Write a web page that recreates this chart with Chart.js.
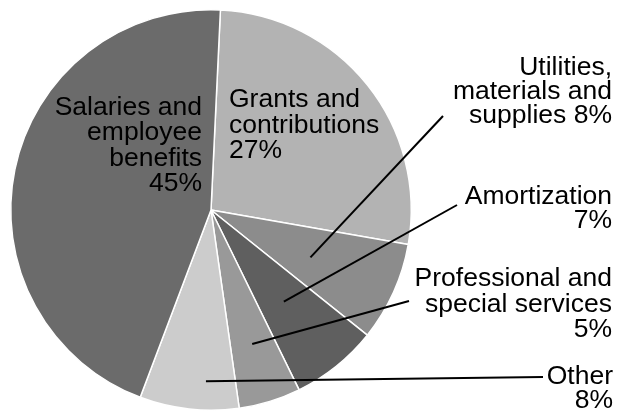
<!DOCTYPE html>
<html>
<head>
<meta charset="utf-8">
<script src="https://cdn.jsdelivr.net/npm/chart.js@4"></script>
<style>
  html, body { margin: 0; padding: 0; background: #fff; }
  canvas { display: block; }
</style>
</head>
<body>
<canvas id="pie" width="618" height="413"></canvas>
<script>
// expense categories, clockwise from the top
const categories = [
    "Grants and contributions",
    "Utilities, materials and supplies",
    "Amortization",
    "Professional and special services",
    "Other",
    "Salaries and employee benefits"
];
const shares = [27, 8, 7, 5, 8, 45];
const labelLines = [
    ["Grants and", "contributions", "{v}%"],
    ["Utilities,", "materials and", "supplies {v}%"],
    ["Amortization", "{v}%"],
    ["Professional and", "special services", "{v}%"],
    ["Other", "{v}%"],
    ["Salaries and", "employee", "benefits", "{v}%"]
];
const sliceColors = ["#b3b3b3", "#8c8c8c", "#5f5f5f", "#999999", "#cccccc", "#6b6b6b"];

// text block per slice; leader = [fraction along the arc, fraction of radius]
const labelLayout = [
    { align: "left",  x: 229, y: 107, lh: 25.5 },
    { align: "right", x: 612, y: 75,  lh: 24,   leader: [0.54, 0.55],  end: [443, 116] },
    { align: "right", x: 612, y: 204, lh: 24,   leader: [0.51, 0.585], end: [457, 205] },
    { align: "right", x: 612, y: 286, lh: 25.5, leader: [0.5, 0.7],    end: [409, 301] },
    { align: "right", x: 613, y: 384, lh: 24,   leader: [0.34, 0.855], end: [543, 377] },
    { align: "right", x: 202, y: 115, lh: 25.3 }
];

const sliceLabels = {
    id: "sliceLabels",
    afterDatasetsDraw(chart) {
        const ctx = chart.ctx;
        const arcs = chart.getDatasetMeta(0).data;
        ctx.save();
        ctx.font = '26.5px "Liberation Sans", Arial, sans-serif';
        ctx.fillStyle = "#000";
        ctx.strokeStyle = "#000";
        ctx.lineWidth = 2;
        labelLayout.forEach((L, i) => {
            const p = arcs[i].getProps(["x", "y", "startAngle", "endAngle", "outerRadius"], true);
            if (L.leader) {
                const a = p.startAngle + (p.endAngle - p.startAngle) * L.leader[0];
                const r = p.outerRadius * L.leader[1];
                ctx.beginPath();
                ctx.moveTo(p.x + r * Math.cos(a), p.y + r * Math.sin(a));
                ctx.lineTo(L.end[0], L.end[1]);
                ctx.stroke();
            }
            ctx.textAlign = L.align;
            ctx.textBaseline = "alphabetic";
            labelLines[i].forEach((t, k) => {
                ctx.fillText(t.replace("{v}", shares[i]), L.x, L.y + k * L.lh);
            });
        });
        ctx.restore();
    }
};

const pie = new Chart(document.getElementById("pie").getContext("2d"), {
    type: "pie",
    data: {
        labels: categories,
        datasets: [
            {
                data: shares,
                backgroundColor: sliceColors,
                borderColor: "#ffffff",
                borderWidth: 1.5
            }
        ]
    },
    options: {
        responsive: false,
        animation: false,
        rotation: 2.7,
        layout: {
            padding: { left: 10, top: 9, right: 206, bottom: 2 }
        },
        plugins: {
            legend: { display: false },
            tooltip: { enabled: false }
        }
    },
    plugins: [sliceLabels]
});
</script>
</body>
</html>
